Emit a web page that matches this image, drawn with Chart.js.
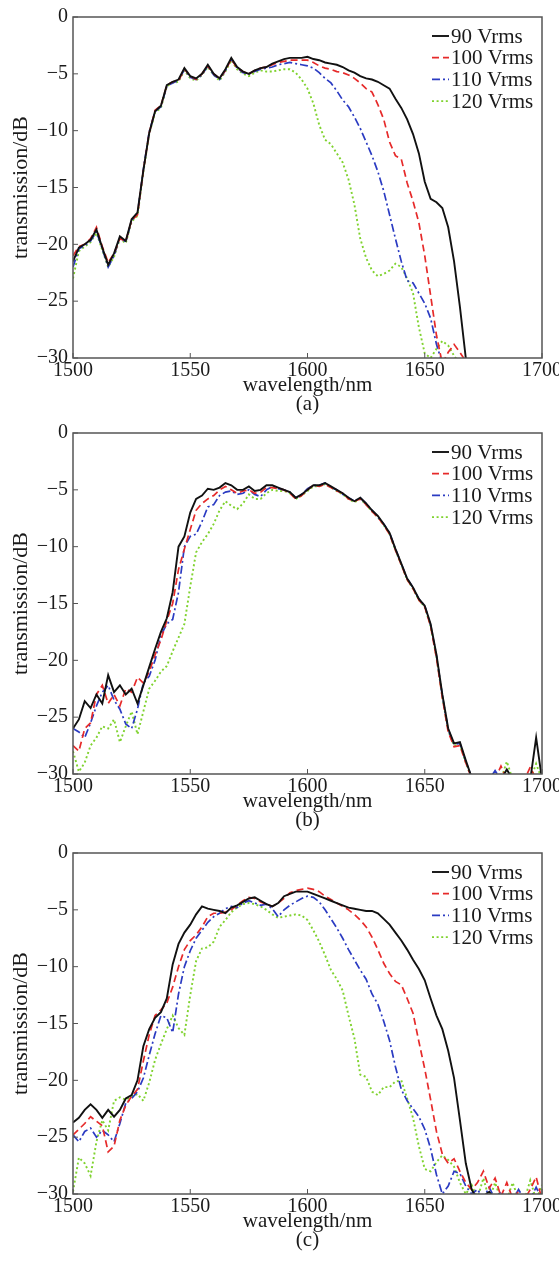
<!DOCTYPE html>
<html>
<head>
<meta charset="utf-8">
<script src="https://cdn.jsdelivr.net/npm/chart.js@4/dist/chart.umd.min.js"></script>
<style>
  body { margin: 0; background: #fff; width: 559px; height: 1270px; position: relative; }
  canvas.panel { position: absolute; left: 0; }
</style>
</head>
<body>
<canvas id="panelA" class="panel" width="559" height="424" style="top:0px"></canvas>
<canvas id="panelB" class="panel" width="559" height="424" style="top:416px"></canvas>
<canvas id="panelC" class="panel" width="559" height="424" style="top:836px"></canvas>
<script>
// sample grid (nm), shared by all panels
const wavelength = [
  1500, 1502.5, 1505, 1507.5, 1510, 1512.5, 1515, 1517.5,
  1520, 1522.5, 1525, 1527.5, 1530, 1532.5, 1535, 1537.5,
  1540, 1542.5, 1545, 1547.5, 1550, 1552.5, 1555, 1557.5,
  1560, 1562.5, 1565, 1567.5, 1570, 1572.5, 1575, 1577.5,
  1580, 1582.5, 1585, 1587.5, 1590, 1592.5, 1595, 1597.5,
  1600, 1602.5, 1605, 1607.5, 1610, 1612.5, 1615, 1617.5,
  1620, 1622.5, 1625, 1627.5, 1630, 1632.5, 1635, 1637.5,
  1640, 1642.5, 1645, 1647.5, 1650, 1652.5, 1655, 1657.5,
  1660, 1662.5, 1665, 1667.5, 1670, 1672.5, 1675, 1677.5,
  1680, 1682.5, 1685, 1687.5, 1690, 1692.5, 1695, 1697.5,
  1700
];

const seriesLabels = ['90 Vrms', '100 Vrms', '110 Vrms', '120 Vrms'];
const panelLabels = ['(a)', '(b)', '(c)'];

// (a)
const a90 = [
  -21.5, -20.3, -20.0, -19.6, -18.7, -20.3, -21.8, -20.8,
  -19.3, -19.7, -17.8, -17.2, -13.5, -10.2, -8.3, -7.8,
  -6.0, -5.7, -5.5, -4.5, -5.2, -5.4, -5.0, -4.2,
  -5.0, -5.4, -4.6, -3.6, -4.4, -4.8, -5.0, -4.7,
  -4.5, -4.4, -4.1, -3.9, -3.7, -3.6, -3.6, -3.6,
  -3.5, -3.7, -3.8, -4.0, -4.1, -4.2, -4.4, -4.7,
  -4.9, -5.2, -5.4, -5.5, -5.7, -6.0, -6.3, -7.2,
  -8.0, -9.0, -10.3, -12.0, -14.5, -16.0, -16.3, -16.8,
  -18.5, -21.5, -25.5, -30.0, -32.0, null, null, null,
  null, null, null, null, null, null, null, null,
  null
];
const a100 = [
  -21.0, -20.2, -20.0, -19.5, -18.5, -20.2, -21.6, -20.8,
  -19.5, -19.7, -17.9, -17.4, -13.5, -10.2, -8.2, -7.8,
  -6.0, -5.7, -5.6, -4.6, -5.2, -5.5, -5.0, -4.3,
  -5.0, -5.4, -4.7, -3.7, -4.5, -4.8, -5.0, -4.7,
  -4.5, -4.4, -4.2, -4.0, -3.9, -3.8, -3.8, -3.8,
  -3.8, -4.0, -4.3, -4.5, -4.6, -4.8, -4.9, -5.1,
  -5.4, -5.8, -6.3, -6.6, -7.7, -9.0, -11.0, -12.2,
  -12.5, -14.6, -16.2, -18.1, -21.0, -24.5, -28.0, -30.5,
  -29.5, -28.8, -29.5, -30.3, -31.0, null, null, null,
  null, null, null, null, null, null, null, null,
  null
];
const a110 = [
  -22.0, -20.4, -20.1, -19.7, -18.9, -20.4, -22.0, -21.0,
  -19.4, -19.8, -17.9, -17.3, -13.4, -10.1, -8.3, -7.9,
  -6.1, -5.8, -5.6, -4.6, -5.3, -5.5, -5.1, -4.3,
  -5.1, -5.5, -4.7, -3.7, -4.5, -4.9, -5.0, -4.8,
  -4.6, -4.5, -4.4, -4.2, -4.1, -4.0, -4.1, -4.2,
  -4.3, -4.5, -4.9, -5.4, -5.8, -6.5, -7.3, -7.9,
  -8.8, -9.8, -11.0, -12.2, -13.6, -15.3, -17.4, -19.5,
  -21.5, -23.2, -23.4, -24.3, -25.2, -26.5, -28.8, -30.5,
  -31.0, null, null, null, null, null, null, null,
  null, null, null, null, null, null, null, null,
  null
];
const a120 = [
  -23.0, -20.6, -20.2, -19.8, -19.0, -20.5, -22.0, -21.1,
  -19.5, -19.9, -18.0, -17.5, -13.6, -10.3, -8.4, -8.0,
  -6.1, -5.8, -5.7, -4.7, -5.4, -5.6, -5.1, -4.4,
  -5.1, -5.6, -4.8, -3.8, -4.6, -5.0, -5.2, -4.9,
  -4.7, -4.8, -4.8, -4.7, -4.6, -4.6, -4.9, -5.5,
  -6.3, -7.6, -9.5, -10.8, -11.2, -12.0, -12.8, -14.3,
  -16.5, -19.5, -21.2, -22.3, -22.8, -22.6, -22.3, -21.7,
  -22.0, -23.0, -24.3, -27.3, -29.6, -30.0, -29.2, -28.5,
  -28.9, -29.8, -30.5, null, null, null, null, null,
  null, null, null, null, null, null, null, null,
  null
];

// (b)
const b90 = [
  -26.0, -25.2, -23.6, -24.2, -23.0, -23.8, -21.3, -22.8,
  -22.2, -23.0, -22.5, -23.8, -22.2, -20.6, -19.0, -17.5,
  -16.3, -14.0, -10.0, -9.1, -7.0, -5.8, -5.5, -4.9,
  -5.0, -4.8, -4.4, -4.6, -5.0, -5.0, -4.7, -5.1,
  -5.0, -4.6, -4.6, -4.8, -5.0, -5.2, -5.7, -5.4,
  -5.0, -4.6, -4.6, -4.4, -4.7, -5.0, -5.3, -5.7,
  -6.0, -5.7, -6.2, -6.8, -7.3, -8.0, -8.8, -10.2,
  -11.5, -12.8, -13.6, -14.6, -15.2, -16.8, -19.5, -23.0,
  -26.0, -27.3, -27.2, -28.8, -30.3, -30.5, -30.5, -30.5,
  -30.5, -30.5, -29.6, -30.5, -30.5, -30.5, -30.5, -26.8,
  -30.5
];
const b100 = [
  -27.5, -28.0, -26.0, -25.5, -23.0, -22.2, -23.8, -23.0,
  -24.0, -22.5, -22.8, -21.5, -22.0, -21.0, -19.5, -18.2,
  -16.5, -15.0, -12.0, -10.2, -8.5, -6.8, -6.2, -5.8,
  -5.5, -5.0, -4.7, -5.0, -5.3, -5.1, -5.0, -5.3,
  -5.2, -4.8, -4.8, -4.9, -5.0, -5.3, -5.8, -5.5,
  -5.0, -4.6, -4.7, -4.5, -4.8, -5.1, -5.3, -5.8,
  -6.0, -5.8, -6.3, -6.9, -7.4, -8.1, -8.9, -10.3,
  -11.6, -12.9, -13.7, -14.7, -15.3, -17.0, -19.8, -23.3,
  -26.3, -27.6, -27.5, -29.0, -30.4, -30.2, -30.5, -30.5,
  -30.5, -29.3, -30.5, -30.5, -30.5, -30.5, -29.4, -30.5,
  -30.5
];
const b110 = [
  -26.0, -26.3, -26.8, -25.5, -24.0, -22.8, -22.2, -23.5,
  -24.3, -25.6, -26.0, -24.3, -22.0, -21.4, -20.0, -17.8,
  -16.8, -16.4, -14.0, -10.0, -9.1, -8.9, -7.8, -6.5,
  -6.3, -5.5, -5.2, -5.1, -5.4, -5.3, -5.0, -5.4,
  -5.6, -5.0, -4.7, -4.9, -5.0, -5.2, -5.7, -5.4,
  -4.9, -4.6, -4.6, -4.4, -4.8, -5.0, -5.4, -5.7,
  -6.0, -5.7, -6.2, -6.8, -7.4, -8.0, -8.8, -10.2,
  -11.5, -12.8, -13.6, -14.6, -15.2, -16.9, -19.6, -23.1,
  -26.1, -27.4, -27.3, -28.9, -30.3, -30.5, -30.5, -30.5,
  -29.7, -30.5, -30.5, -30.5, -30.5, -30.5, -30.5, -30.5,
  -30.5
];
const b120 = [
  -28.0, -29.8, -29.0, -27.5, -26.8, -25.8, -26.0, -25.2,
  -27.2, -25.8, -24.5, -26.5, -24.5, -22.5, -21.8, -21.0,
  -20.5, -19.2, -18.0, -16.8, -13.5, -10.5, -9.6, -8.9,
  -8.0, -6.8, -6.0, -6.4, -6.7, -6.2, -5.4, -5.8,
  -5.8, -5.3, -5.0, -5.1, -5.1, -5.3, -5.8, -5.5,
  -5.1, -4.7, -4.7, -4.5, -4.8, -5.1, -5.4, -5.8,
  -6.1, -5.8, -6.3, -6.9, -7.4, -8.1, -8.9, -10.3,
  -11.6, -12.9, -13.7, -14.7, -15.3, -17.0, -19.7, -23.2,
  -26.2, -27.5, -27.4, -29.0, -30.4, -30.5, -30.5, -30.5,
  -30.5, -30.5, -28.9, -30.5, -30.5, -30.5, -30.5, -29.1,
  -30.5
];

// (c)
const c90 = [
  -23.7, -23.3, -22.6, -22.1, -22.6, -23.3, -22.6, -23.2,
  -22.6, -21.6, -21.3, -20.0, -17.0, -15.5, -14.5, -14.0,
  -12.8, -9.8, -8.0, -7.0, -6.3, -5.4, -4.7, -4.9,
  -5.0, -5.1, -5.3, -4.8, -4.6, -4.3, -4.0, -3.9,
  -4.2, -4.5, -4.7, -4.4, -3.8, -3.6, -3.4, -3.4,
  -3.4, -3.6, -3.8, -4.0, -4.2, -4.4, -4.6, -4.8,
  -4.9, -5.0, -5.1, -5.1, -5.3, -5.8, -6.3, -7.0,
  -7.7, -8.5, -9.4, -10.2, -11.2, -12.8, -14.3, -15.5,
  -17.4, -19.8, -23.5, -27.3, -29.6, -30.5, -30.2, -29.8,
  -30.5, null, null, null, null, null, null, null,
  null
];
const c100 = [
  -24.8, -24.3, -23.8, -23.2, -23.6, -24.0, -26.3, -25.8,
  -23.5, -22.2, -21.4, -20.8, -18.3, -16.0, -14.3, -13.8,
  -13.2, -11.8, -10.0, -8.5, -7.7, -7.2, -6.5, -5.6,
  -5.3, -5.3, -5.2, -5.0, -4.6, -4.2, -3.9, -4.0,
  -4.3, -4.5, -4.7, -4.4, -4.0, -3.5, -3.3, -3.2,
  -3.1, -3.2, -3.4, -3.8, -4.1, -4.4, -4.7, -5.0,
  -5.4, -5.9, -6.5, -7.4, -8.5, -9.7, -10.6, -11.3,
  -11.6, -12.8, -14.1, -16.6, -19.0, -21.7, -24.5, -26.5,
  -27.3, -26.9, -28.0, -29.0, -29.6, -29.0, -28.0, -29.5,
  -28.6, -30.2, -29.0, -30.4, -29.8, -30.5, -29.6, -28.5,
  -30.5
];
const c110 = [
  -24.8, -25.4, -24.5, -24.2, -25.0, -24.4, -24.8, -25.4,
  -23.8, -22.0, -21.6, -21.0, -19.8, -17.8, -15.9, -14.3,
  -14.5, -15.8, -12.4, -10.0, -8.6, -7.5, -6.8, -6.1,
  -5.6, -5.3, -4.9, -4.7, -4.8, -4.4, -4.2, -4.4,
  -4.6, -4.5, -4.9, -5.6, -5.0, -4.6, -4.3, -4.0,
  -3.8, -3.9, -4.3, -5.0, -5.8, -6.6, -7.5, -8.5,
  -9.4, -10.3, -11.1, -12.4, -13.3, -14.8, -16.5, -18.8,
  -20.8, -21.8, -22.5, -23.2, -24.3, -26.0, -28.3, -30.0,
  -29.3, -28.0, -28.2, -29.3, -30.0, -29.6, -30.4, -29.4,
  -30.5, -29.8, -30.5, -30.5, -29.6, -30.5, -30.5, -29.4,
  -30.5
];
const c120 = [
  -29.8, -26.8, -27.3, -28.4, -25.4, -23.5, -24.4, -21.8,
  -21.5, -21.7, -21.4, -21.2, -21.8, -20.2, -18.2, -16.8,
  -15.5, -14.3, -15.4, -16.0, -12.5, -9.5, -8.4, -8.3,
  -7.8, -6.5, -5.9, -5.2, -4.8, -4.5, -4.4, -4.5,
  -4.7, -5.0, -5.4, -5.7, -5.6, -5.5, -5.4, -5.5,
  -5.9, -6.8, -7.8, -9.0, -10.3, -11.1, -12.1, -14.3,
  -16.3, -19.5, -19.7, -21.0, -21.3, -20.6, -20.6, -20.1,
  -20.0, -21.6, -23.3, -25.8, -27.8, -28.0, -27.2, -26.6,
  -27.0, -27.6, -29.0, -30.0, -29.2, -30.4, -28.6, -30.5,
  -29.0, -30.5, -30.5, -29.0, -30.5, -30.5, -28.8, -30.5,
  -29.2
];

// styles
const lineColors = ['#111111', '#e62a2a', '#2b3bc2', '#7fd22e'];
const lineDashes = [[], [7, 4], [8, 3, 2, 3], [2, 2.6]];
const lineWidths = [1.9, 1.7, 1.7, 1.9];
const serif = "'Liberation Serif', 'DejaVu Serif', serif";

const framePlugin = {
  id: 'frame',
  afterDraw(chart) {
    const { ctx, chartArea: a, scales: { x, y } } = chart;
    ctx.save();
    ctx.strokeStyle = '#555';
    ctx.lineWidth = 1.5;
    ctx.setLineDash([]);
    ctx.strokeRect(a.left, a.top, a.width, a.height);
    ctx.lineWidth = 1;
    ctx.beginPath();
    x.ticks.forEach(t => {
      const px = x.getPixelForValue(t.value);
      ctx.moveTo(px, a.bottom);
      ctx.lineTo(px, a.bottom - 5);
    });
    y.ticks.forEach(t => {
      const py = y.getPixelForValue(t.value);
      ctx.moveTo(a.left, py);
      ctx.lineTo(a.left + 5, py);
    });
    ctx.stroke();
    ctx.restore();
  }
};

// legend drawn inside the plot, top right
const insideLegend = {
  id: 'insideLegend',
  afterDraw(chart) {
    const { ctx, chartArea: a } = chart;
    ctx.save();
    ctx.font = '21px ' + serif;
    ctx.textBaseline = 'middle';
    ctx.fillStyle = '#1a1a1a';
    chart.data.datasets.forEach((ds, i) => {
      const yy = a.top + 19 + i * 21.7;
      const x0 = a.right - 110;
      ctx.strokeStyle = ds.borderColor;
      ctx.lineWidth = ds.borderWidth;
      ctx.setLineDash(ds.borderDash);
      ctx.beginPath();
      ctx.moveTo(x0, yy);
      ctx.lineTo(x0 + 17, yy);
      ctx.stroke();
      ctx.fillText(ds.label, x0 + 19, yy + 1);
    });
    ctx.restore();
  }
};

function minusLabel(v) {
  return v < 0 ? '\u2212' + Math.abs(v) : String(v);
}

function makePanel(canvasId, panelLabel, series) {
  return new Chart(document.getElementById(canvasId), {
    type: 'line',
    data: {
      datasets: series.map((values, i) => ({
        label: seriesLabels[i],
        data: values.map((v, k) => ({ x: wavelength[k], y: v })),
        borderColor: lineColors[i],
        borderDash: lineDashes[i],
        borderWidth: lineWidths[i],
        pointRadius: 0,
        tension: 0,
        fill: false
      }))
    },
    options: {
      responsive: false,
      animation: false,
      devicePixelRatio: 1,
      layout: { padding: { top: 14, right: 17, left: 0, bottom: 0 } },
      plugins: {
        legend: { display: false },
        tooltip: { enabled: false }
      },
      scales: {
        x: {
          type: 'linear',
          min: 1500,
          max: 1700,
          ticks: {
            stepSize: 50,
            maxRotation: 0,
            padding: 1,
            color: '#1a1a1a',
            font: { family: serif, size: 20 },
            callback: v => String(v)
          },
          grid: { display: false, drawTicks: false },
          border: { display: false },
          title: {
            display: true,
            text: ['wavelength/nm', panelLabel],
            color: '#1a1a1a',
            font: { family: serif, size: 21, lineHeight: 0.9 },
            padding: { top: 4, bottom: 10 }
          },
          afterFit(scale) {
            scale.height = 66;
            scale.paddingLeft = 0;
            scale.paddingRight = 0;
          }
        },
        y: {
          min: -30,
          max: 0,
          ticks: {
            stepSize: 5,
            padding: 5,
            color: '#1a1a1a',
            font: { family: serif, size: 20 },
            callback: v => minusLabel(v)
          },
          grid: { display: false, drawTicks: false },
          border: { display: false },
          title: {
            display: true,
            text: 'transmission/dB',
            color: '#1a1a1a',
            font: { family: serif, size: 22 },
            padding: { top: 8, bottom: 0 }
          },
          afterFit(scale) {
            scale.width = 73;
          }
        }
      }
    },
    plugins: [framePlugin, insideLegend]
  });
}

makePanel('panelA', panelLabels[0], [a90, a100, a110, a120]);
makePanel('panelB', panelLabels[1], [b90, b100, b110, b120]);
makePanel('panelC', panelLabels[2], [c90, c100, c110, c120]);
</script>
</body>
</html>
